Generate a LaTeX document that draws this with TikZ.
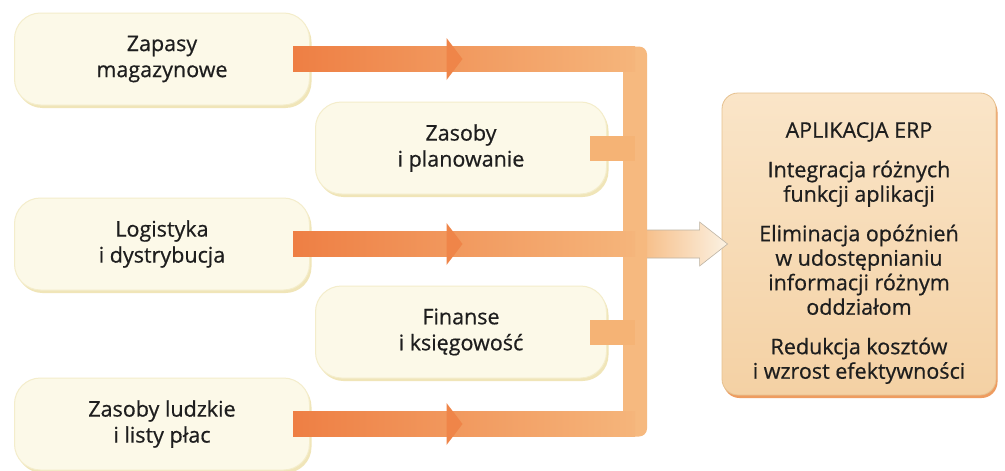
\documentclass[tikz,border=0pt]{standalone}
\usepackage{fontspec}
\setmainfont{Open Sans}[FakeBold=0.6]
\usetikzlibrary{shadows,calc}

\definecolor{cream}{HTML}{FCF9E8}
\definecolor{creamedge}{HTML}{F4EDCB}
\definecolor{creamshadow}{HTML}{F0E5B8}
\definecolor{bandL}{HTML}{EE7F44}
\definecolor{bandR}{HTML}{F5B57B}
\definecolor{barcol}{HTML}{F6B97F}
\definecolor{stubcol}{HTML}{F5B375}
\definecolor{headcol}{HTML}{EF8549}
\definecolor{arrowend}{HTML}{FBF2E3}
\definecolor{arrowline}{HTML}{BDB3A3}
\definecolor{erptop}{HTML}{FAE5C8}
\definecolor{erpbottom}{HTML}{F4D1A4}
\definecolor{erpedge}{HTML}{E6C18F}
\definecolor{erpshadow}{HTML}{EE9C60}
\definecolor{ink}{HTML}{1E1E1E}

\begin{document}
\begin{tikzpicture}[x=1pt,y=-1pt,
  every node/.style={text=ink},
  unitbox/.style={rounded corners=26pt, fill=cream, draw=creamedge, line width=1pt,
    align=center, minimum height=92pt, inner sep=0pt,
    font=\fontsize{21.5}{26}\selectfont,
    drop shadow={shadow xshift=2pt, shadow yshift=-3pt, fill=creamshadow, opacity=1}},
  leftbox/.style={unitbox, minimum width=295pt},
  midbox/.style={unitbox, minimum width=291pt},
  erpbox/.style={rounded corners=16pt, top color=erptop, bottom color=erpbottom,
    draw=erpedge, line width=0.8pt, minimum width=274pt, minimum height=302pt,
    drop shadow={shadow xshift=1.5pt, shadow yshift=-3pt, fill=erpshadow, opacity=1}},
  erptext/.style={align=center, inner sep=0pt, font=\fontsize{21.5}{24.5}\selectfont},
  band/.style={left color=bandL, right color=bandR},
]
\useasboundingbox (0,0) rectangle (1005,471);
\fill[white] (0,0) rectangle (1005,471);

% source modules
\node[leftbox] (zap) at (162,59)  {Zapasy\\magazynowe};
\node[leftbox] (log) at (162,244) {Logistyka\\i dystrybucja};
\node[leftbox] (hr)  at (162,424) {Zasoby ludzkie\\i listy płac};
\node[midbox]  (plan) at (461,148) {Zasoby\\i planowanie};
\node[midbox]  (fin)  at (461,332) {Finanse\\i księgowość};

% target application
\node[erpbox] (erp) at (859,244) {};
\node[erptext] (erpt) at ($(erp.center)+(0,9)$)
  {APLIKACJA ERP\\[15pt]
   Integracja różnych\\funkcji aplikacji\\[15pt]
   Eliminacja opóźnień\\w udostępnianiu\\informacji różnym\\oddziałom\\[15pt]
   Redukcja kosztów\\i wzrost efektywności};

% collecting bus
\coordinate (bus) at (635,0);

% hollow arrow from the bus into the application
\shade[left color=barcol, right color=arrowend, draw=arrowline, line width=0.6pt]
  ($(bus |- erp.west)+(0,-14)$) -- ($(erp.west)+(-22,-14)$) -- ++(0,-8)
  -- ($(erp.west)+(6,0)$) -- ($(erp.west)+(-22,22)$) -- ++(0,-8)
  -- ($(bus |- erp.west)+(0,14)$) -- cycle;

% vertical bus bar
\fill[barcol, rounded corners=8pt]
  ($(bus |- zap.east)+(-12,-12.5)$) rectangle ($(bus |- hr.east)+(12,12.5)$);

% horizontal bands from the left modules
\foreach \b in {zap,log,hr}{
  \shade[band] ($(\b.east)+(-17,-12.5)$) rectangle ($(bus |- \b.east)+(0,12.5)$);
  \coordinate (h) at ($(\b.east)!0.42!(bus |- \b.east)$);
  \fill[headcol] ($(h)+(0,-21)$) -- ($(h)+(16,0)$) -- ($(h)+(0,21)$) -- cycle;
}

% short stubs from the middle modules
\foreach \b in {plan,fin}{
  \fill[stubcol] ($(\b.east)+(-17,-12.5)$) rectangle ($(bus |- \b.east)+(0,12.5)$);
}
\end{tikzpicture}
\end{document}
